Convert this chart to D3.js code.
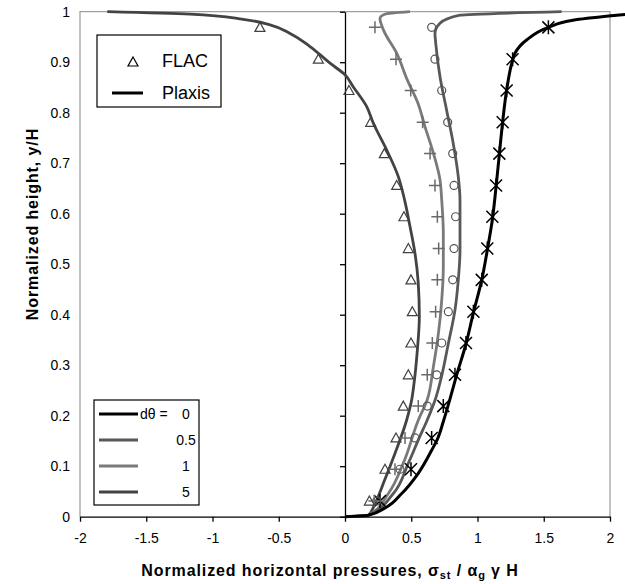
<!DOCTYPE html>
<html lang='en'>
<head>
    <meta charset='UTF-8'>
    <title>Normalized horizontal pressures</title>
    <style>
        body { margin: 0; background: #fff; }
        text { font-family: 'Liberation Sans', Arial, sans-serif; }
    </style>
</head>
<body>
<div id="chart-area"></div>
</body>
<script src='https://cdnjs.cloudflare.com/ajax/libs/d3/7.8.5/d3.min.js'></script>
<script>

    // Plaxis curves (lines), one pair of arrays per dθ value
    const y0 = [0, 0.003, 0.017, 0.046, 0.086, 0.132, 0.152, 0.191, 0.231, 0.281, 0.342, 0.404, 0.469, 0.528, 0.588, 0.653, 0.718, 0.782, 0.845, 0.904, 0.918, 0.944, 0.969, 0.983, 0.993, 0.997];
    const x0 = [0, 0.176, 0.30, 0.428, 0.553, 0.655, 0.695, 0.745, 0.79, 0.843, 0.913, 0.969, 1.032, 1.074, 1.112, 1.14, 1.165, 1.19, 1.22, 1.265, 1.283, 1.37, 1.535, 1.72, 2.05, 2.2];

    const y05 = [0, 0.003, 0.046, 0.106, 0.156, 0.191, 0.231, 0.277, 0.343, 0.409, 0.469, 0.528, 0.627, 0.673, 0.739, 0.805, 0.871, 0.937, 0.957, 0.977, 0.993, 1.0];
    const x05 = [0, 0.176, 0.365, 0.478, 0.56, 0.62, 0.68, 0.728, 0.78, 0.83, 0.855, 0.868, 0.868, 0.855, 0.817, 0.767, 0.717, 0.685, 0.679, 0.717, 0.868, 1.635];

    const y1 = [0, 0.003, 0.046, 0.106, 0.191, 0.231, 0.297, 0.363, 0.429, 0.495, 0.561, 0.627, 0.667, 0.72, 0.772, 0.819, 0.865, 0.918, 0.964, 0.987, 0.995, 1.0];
    const x1 = [0, 0.176, 0.327, 0.44, 0.553, 0.62, 0.667, 0.705, 0.73, 0.742, 0.742, 0.73, 0.717, 0.667, 0.604, 0.55, 0.47, 0.39, 0.29, 0.264, 0.3, 0.49];

    const y5 = [0, 0.003, 0.026, 0.073, 0.125, 0.191, 0.231, 0.264, 0.33, 0.396, 0.462, 0.522, 0.574, 0.627, 0.673, 0.726, 0.779, 0.812, 0.851, 0.875, 0.898, 0.931, 0.957, 0.974, 0.985, 0.995, 1.0];
    const x5 = [0, 0.176, 0.226, 0.30, 0.377, 0.465, 0.503, 0.521, 0.546, 0.561, 0.553, 0.528, 0.491, 0.45, 0.403, 0.315, 0.214, 0.164, 0.063, 0, -0.113, -0.264, -0.415, -0.566, -0.768, -1.17, -1.794];

    // FLAC points (markers)
    const yFlac = [0.031, 0.094, 0.156, 0.219, 0.281, 0.344, 0.406, 0.469, 0.531, 0.594, 0.656, 0.719, 0.781, 0.844, 0.906, 0.969];
    const flac0 = [0.264, 0.498, 0.654, 0.742, 0.83, 0.913, 0.969, 1.032, 1.074, 1.112, 1.14, 1.165, 1.19, 1.22, 1.265, 1.535];
    const flac05 = [0.239, 0.415, 0.528, 0.621, 0.692, 0.73, 0.78, 0.813, 0.823, 0.835, 0.823, 0.813, 0.775, 0.73, 0.679, 0.654];
    const flac1 = [0.221, 0.377, 0.453, 0.553, 0.621, 0.659, 0.684, 0.697, 0.707, 0.697, 0.679, 0.642, 0.586, 0.496, 0.385, 0.226];
    const flac5 = [0.184, 0.302, 0.385, 0.44, 0.478, 0.498, 0.508, 0.498, 0.478, 0.445, 0.39, 0.297, 0.194, 0.03, -0.201, -0.642];

    const dThetaLabels = ['0', '0.5', '1', '5'];
    const xTicks = [-2, -1.5, -1, -0.5, 0, 0.5, 1, 1.5, 2];
    const yTicks = [0, 0.1, 0.2, 0.3, 0.4, 0.5, 0.6, 0.7, 0.8, 0.9, 1];

    const outerWidth = 625;
    const outerHeight = 584;
    const margin = {top: 11.7, right: 15, bottom: 67.3, left: 80};
    const width = outerWidth - margin.left - margin.right;
    const height = outerHeight - margin.top - margin.bottom;

    const series = [
        {label: dThetaLabels[0], xs: x0, ys: y0, fx: flac0, color: '#000000', mark: '#000000', shape: 'star'},
        {label: dThetaLabels[1], xs: x05, ys: y05, fx: flac05, color: '#585858', mark: '#555555', shape: 'circle'},
        {label: dThetaLabels[2], xs: x1, ys: y1, fx: flac1, color: '#7a7a7a', mark: '#6a6a6a', shape: 'plus'},
        {label: dThetaLabels[3], xs: x5, ys: y5, fx: flac5, color: '#434343', mark: '#404040', shape: 'triangle'}
    ];

    const markerPath = {
        star: 'M-6,-6L6,6M-6,6L6,-6M0,-7V7',
        plus: 'M-6,0H6M0,-6V6',
        triangle: 'M0,-5L5,4H-5Z'
    };

    // plain hyphen for negatives, like the original
    const fmt = d => d3.format('~g')(d).replace('−', '-');

    const svg = d3.select('#chart-area').append('svg')
        .attr('width', outerWidth)
        .attr('height', outerHeight)
        .append('g')
        .attr('transform', `translate(${margin.left}, ${margin.top})`);

    const xScale = d3.scaleLinear().domain([-2, 2]).range([0, width]);
    const yScale = d3.scaleLinear().domain([0, 1]).range([height, 0]);

    // gray plot frame (top, right, left)
    svg.append('path')
        .attr('d', `M0,${height}V0H${width}V${height}`)
        .attr('fill', 'none')
        .attr('stroke', '#a0a0a0')
        .attr('stroke-width', 1.3);

    // x axis along y = 0
    const gx = svg.append('g')
        .attr('transform', `translate(0, ${height})`)
        .call(d3.axisBottom(xScale).tickValues(xTicks).tickSize(5).tickSizeOuter(0).tickPadding(11).tickFormat(fmt));

    // y axis at x = 0, labels pushed out to the left of the frame
    const gy = svg.append('g')
        .attr('transform', `translate(${xScale(0)}, 0)`)
        .call(d3.axisLeft(yScale).tickValues(yTicks).tickSize(5).tickSizeOuter(0)
            .tickPadding(xScale(0) + 10 - 5).tickFormat(fmt));

    [gx, gy].forEach(g => {
        g.select('.domain').attr('stroke', '#000').attr('stroke-width', 1.3);
        g.selectAll('.tick line').attr('stroke', '#000').attr('stroke-width', 1.3);
        g.selectAll('.tick text').attr('font-size', 14).attr('fill', '#000')
            .style('font-family', "'Liberation Sans', Arial, sans-serif");
    });

    // Plaxis lines
    const line = d3.line()
        .x(d => xScale(d[0]))
        .y(d => yScale(d[1]))
        .curve(d3.curveMonotoneY);

    const drawOrder = [series[3], series[2], series[1], series[0]];
    drawOrder.forEach(s => {
        svg.append('path')
            .datum(s.xs.map((x, i) => [x, s.ys[i]]))
            .attr('d', line)
            .attr('fill', 'none')
            .attr('stroke', s.color)
            .attr('stroke-width', s.shape === 'star' ? 3 : 2.8)
            .attr('stroke-linejoin', 'round');
    });

    // FLAC markers
    series.forEach(s => {
        const pts = s.fx.map((x, i) => [x, yFlac[i]]);
        const g = svg.append('g');
        if (s.shape === 'circle') {
            g.selectAll('circle').data(pts).join('circle')
                .attr('cx', d => xScale(d[0]))
                .attr('cy', d => yScale(d[1]))
                .attr('r', 4)
                .attr('fill', 'none')
                .attr('stroke', s.mark)
                .attr('stroke-width', 1.2);
        } else {
            g.selectAll('path').data(pts).join('path')
                .attr('transform', d => `translate(${xScale(d[0])}, ${yScale(d[1])})`)
                .attr('d', markerPath[s.shape])
                .attr('fill', 'none')
                .attr('stroke', s.mark)
                .attr('stroke-width', s.shape === 'triangle' ? 1.2 : 1.5);
        }
    });

    // legend: FLAC / Plaxis
    const leg1 = svg.append('g').attr('transform', `translate(${97 - margin.left}, ${35 - margin.top})`);
    leg1.append('rect').attr('width', 124).attr('height', 72)
        .attr('fill', '#fff').attr('stroke', '#000').attr('stroke-width', 1.2);
    leg1.append('path').attr('transform', 'translate(36, 27)').attr('d', 'M0,-5L5,4H-5Z')
        .attr('fill', 'none').attr('stroke', '#000').attr('stroke-width', 1.2);
    leg1.append('text').attr('x', 65).attr('y', 32).attr('font-size', 18).text('FLAC');
    leg1.append('line').attr('x1', 15).attr('x2', 46).attr('y1', 58).attr('y2', 58)
        .attr('stroke', '#000').attr('stroke-width', 3);
    leg1.append('text').attr('x', 65).attr('y', 64).attr('font-size', 18).text('Plaxis');

    // legend: dθ values
    const leg2 = svg.append('g').attr('transform', `translate(${94 - margin.left}, ${400 - margin.top})`);
    leg2.append('rect').attr('width', 105).attr('height', 105)
        .attr('fill', '#fff').attr('stroke', '#000').attr('stroke-width', 1.2);
    series.forEach((s, i) => {
        const yy = 14 + i * 26;
        leg2.append('line').attr('x1', 5).attr('x2', 44).attr('y1', yy).attr('y2', yy)
            .attr('stroke', s.color).attr('stroke-width', 3);
        leg2.append('text').attr('x', 92).attr('y', yy + 5).attr('font-size', 14)
            .attr('text-anchor', 'middle').text(s.label);
    });
    leg2.append('text').attr('x', 46).attr('y', 19).attr('font-size', 14).text('dθ =');

    // axis titles
    const xTitle = svg.append('text')
        .attr('x', 330 - margin.left)
        .attr('y', 576 - margin.top)
        .attr('text-anchor', 'middle')
        .attr('font-size', 16)
        .attr('letter-spacing', 0.9)
        .attr('font-weight', 'bold');
    xTitle.append('tspan').text('Normalized horizontal pressures, σ');
    xTitle.append('tspan').attr('font-size', 11).attr('dy', 3).text('st');
    xTitle.append('tspan').attr('dy', -3).text(' / α');
    xTitle.append('tspan').attr('font-size', 11).attr('dy', 3).text('g');
    xTitle.append('tspan').attr('dy', -3).text(' γ H');

    svg.append('text')
        .attr('transform', `translate(${38 - margin.left}, ${224 - margin.top}) rotate(-90)`)
        .attr('text-anchor', 'middle')
        .attr('font-size', 16)
        .attr('letter-spacing', 0.9)
        .attr('font-weight', 'bold')
        .text('Normalized height, y/H');
</script>
</html>
